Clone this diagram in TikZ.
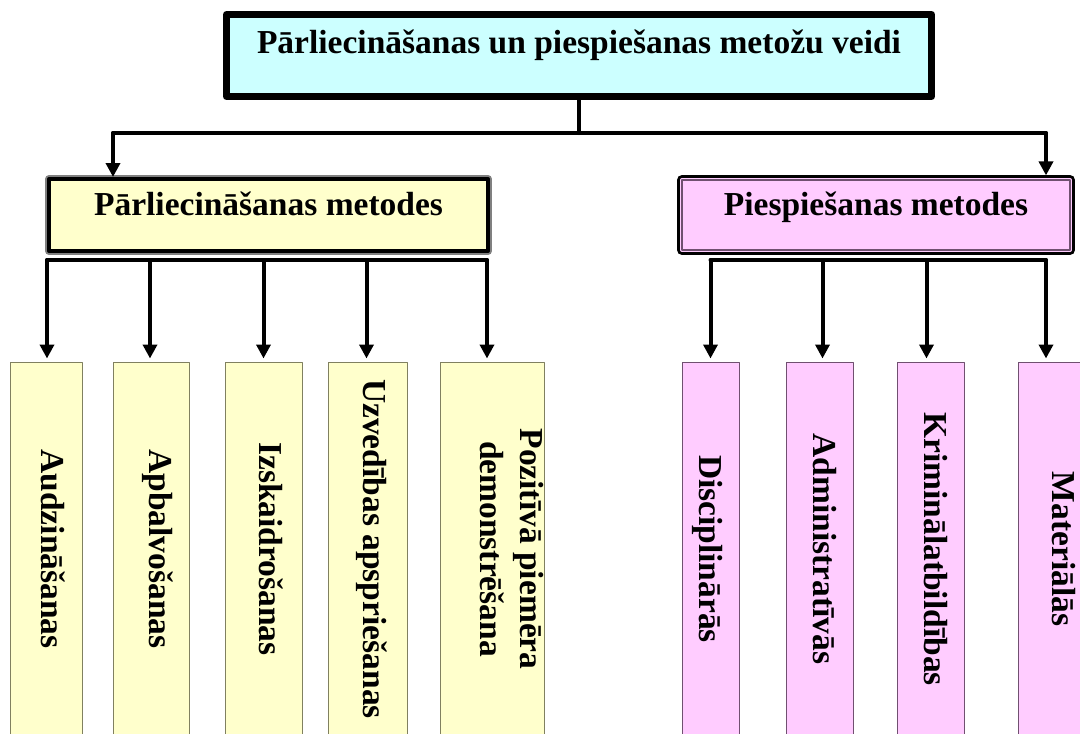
\documentclass[tikz,border=0pt]{standalone}
\usepackage{fontspec}
\setmainfont{Liberation Serif}
\usetikzlibrary{arrows.meta}
\definecolor{ciana}{RGB}{204,255,255}
\definecolor{dzeltena}{RGB}{255,255,204}
\definecolor{roza}{RGB}{255,204,255}
\definecolor{olivapelek}{RGB}{128,128,96}
\definecolor{violetpelek}{RGB}{112,80,112}
\begin{document}
\begin{tikzpicture}[x=1pt, y=-1pt, font=\fontsize{33.5}{40}\selectfont\bfseries, line join=round, line cap=round, >={Triangle[width=14pt,length=14pt]}]
			\tikzset{galvena/.style={draw=black, line width=7pt, fill=ciana, inner sep=0pt, minimum width=705pt, text height=38.5pt, text depth=43.5pt},
				dz-kaste/.style={draw=black, line width=4pt, fill=dzeltena, preaction={draw=gray, line width=8pt}, inner sep=0pt, minimum width=439pt, text height=36pt, text depth=36pt},
				rz-kaste/.style={draw=violetpelek, line width=1.2pt, fill=roza, preaction={draw=black, line width=10pt}, preaction={draw=roza, line width=4pt}, inner sep=0pt, minimum width=388pt, text height=35pt, text depth=35pt},
				berns/.style={rotate=-90, inner sep=0pt, line width=1pt, minimum width=374pt, text height=23pt, align=center},
				dz-berns/.style={berns, draw=olivapelek, fill=dzeltena},
				rz-berns/.style={berns, draw=violetpelek, fill=roza},
				savienot/.style={line width=4pt},
				bulta/.style={savienot, ->}
			}
			\useasboundingbox (0,0) rectangle (1080,734);
			\clip (0,0) rectangle (1080,734);
			% augsa
			\node[galvena] (veidi) at (579,55.5) {Pārliecināšanas un piespiešanas metožu veidi};
			\node[dz-kaste] (parl) at (268.5,215) {Pārliecināšanas metodes};
			\node[rz-kaste] (piesp) at (876,215) {Piespiešanas metodes};
			% parliecinasanas metodes
			\node[dz-berns, minimum height=72pt, text depth=14pt] (a1) at (46,549) {Audzināšanas};
			\node[dz-berns, minimum height=76pt, text depth=20pt] (a2) at (151,549) {Apbalvošanas};
			\node[dz-berns, minimum height=77pt, text depth=14pt] (a3) at (263.5,549) {Izskaidrošanas};
			\node[dz-berns, minimum height=79pt, text depth=14pt] (a4) at (367.5,549) {Uzvedības apspriešanas};
			\node[dz-berns, minimum height=104pt] (a5) at (492,549) {Pozitīvā piemēra\\demonstrēšana};
			% piespiesanas metodes
			\node[rz-berns, minimum height=57pt, text depth=0pt] (b1) at (710.5,549) {Disciplinārās};
			\node[rz-berns, minimum height=67pt, text depth=11pt] (b2) at (819.5,549) {Administratīvās};
			\node[rz-berns, minimum height=67pt, text depth=10pt] (b3) at (930.5,549) {Kriminālatbildības};
			\node[rz-berns, minimum height=90pt, text depth=1pt] (b4) at (1063,549) {Materiālās};
			% savienojumi
			\coordinate (trunks) at (579,133);
			\coordinate (lbus) at (0,260);
			\path (parl.north) ++(-155.5,0) coordinate (parl-g);
			\path (piesp.north) ++(170,-4) coordinate (piesp-g);
			\draw[savienot] (veidi.south) -- (veidi.south |- trunks);
			\draw[savienot] (parl-g |- trunks) -- (piesp-g |- trunks);
			\draw[bulta] (parl-g |- trunks) -- (parl-g);
			\draw[bulta] (piesp-g |- trunks) -- (piesp-g);
			\foreach \n/\d in {a1/1,a2/-1,a3/0,a4/-1,a5/-5,b1/0,b2/3,b3/-4,b4/-17} {
				\path (\n.west) ++(\d,-3) coordinate (\n-g);
				\draw[bulta] (\n-g |- lbus) -- (\n-g);
			}
			\draw[savienot] (a1-g |- lbus) -- (a5-g |- lbus);
			\draw[savienot] (b1-g |- lbus) -- (b4-g |- lbus);
		\end{tikzpicture}
\end{document}
